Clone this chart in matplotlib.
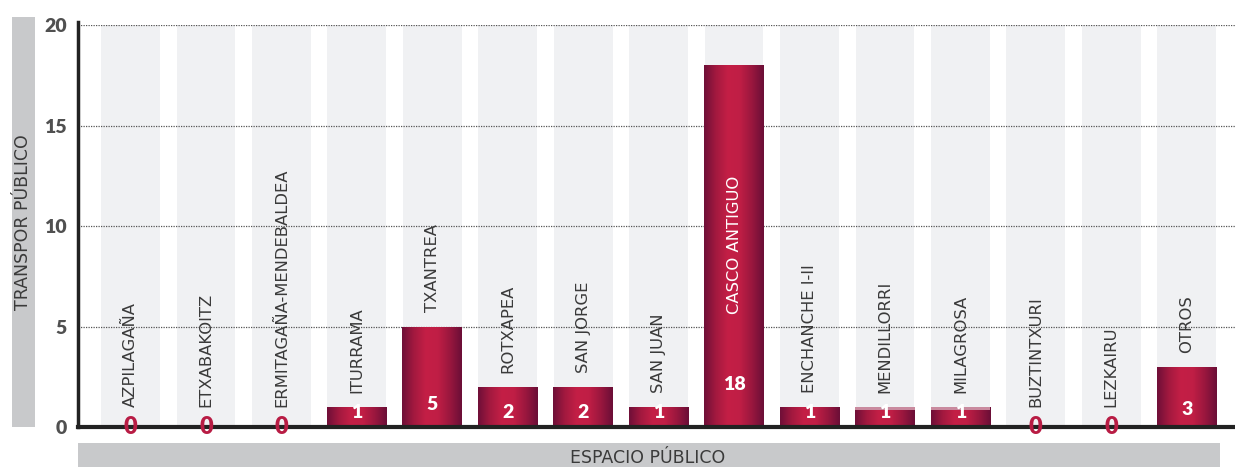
import numpy as np
import matplotlib
matplotlib.use("Agg")
import matplotlib.pyplot as plt
from matplotlib.colors import LinearSegmentedColormap
from matplotlib.patches import Rectangle
from matplotlib.font_manager import FontProperties

barrios = ["AZPILAGAÑA", "ETXABAKOITZ", "ERMITAGAÑA-MENDEBALDEA", "ITURRAMA",
           "TXANTREA", "ROTXAPEA", "SAN JORGE", "SAN JUAN", "CASCO ANTIGUO",
           "ENCHANCHE I-II", "MENDILLORRI", "MILAGROSA", "BUZTINTXURI",
           "LEZKAIRU", "OTROS"]
valores = [0, 0, 0, 1, 5, 2, 2, 1, 18, 1, 1, 1, 0, 0, 3]
faded_top = ["MENDILLORRI", "MILAGROSA"]

CRIMSON = "#b81c44"
TXT = "#3a3a3a"
grad = LinearSegmentedColormap.from_list(
    "bar", ["#6e0f38", "#a3193f", "#c41f46", "#c01e45", "#9a173e", "#6a0e37"])

plt.rcParams['font.family'] = ['DejaVu Sans']
num_font = FontProperties(family="Lato", weight="heavy", size=14)
zero_font = FontProperties(family="Lato", weight="heavy", size=17)
cat_font = FontProperties(family="DejaVu Sans", size=11.8)
title_font = FontProperties(family="DejaVu Sans", size=12.5)

fig = plt.figure(figsize=(12.35, 4.67), dpi=100)
ax = fig.add_axes([78 / 1235, 40 / 467, 1 - 78 / 1235, 402 / 467])
x = np.arange(len(barrios))
ax.set_xlim(-0.696, len(barrios) - 1 + 0.64)
ax.set_ylim(0, 20)

# light background columns
for xi in x:
    ax.add_patch(Rectangle((xi - 0.39, 0), 0.78, 20, color="#f0f1f3", lw=0, zorder=0))

# dotted gridlines
for yv in [5, 10, 15, 20]:
    ax.axhline(yv, color="#555555", lw=0.9, ls=(0, (1, 1)), zorder=1)

bars = ax.bar(x, valores, width=0.79, color="none", lw=0, zorder=2)
g = np.linspace(0, 1, 256).reshape(1, -1)
for b, name, v in zip(bars, barrios, valores):
    if v == 0:
        continue
    bx, bw = b.get_x(), b.get_width()
    im = ax.imshow(g, cmap=grad, aspect="auto", extent=(bx, bx + bw, 0, v),
                   zorder=2, interpolation="bicubic")
    im.set_clip_path(b)
    if name in faded_top:
        ax.add_patch(Rectangle((bx, v - 0.15), bw, 0.15, color="#c98a9e", lw=0, zorder=3))

# value labels
for xi, v in zip(x, valores):
    if v == 0:
        ax.text(xi, 0, "0", ha="center", va="center", color=CRIMSON,
                fontproperties=zero_font, zorder=6)
    else:
        ax.text(xi, max(0.7, 0.5 * np.sqrt(v)), str(v), ha="center", va="center",
                color="white", fontproperties=num_font, zorder=6)

# category labels
for xi, name, v in zip(x, barrios, valores):
    if v > 10:
        ax.text(xi, 5.6, name, rotation=90, ha="center", va="bottom",
                color="white", fontproperties=cat_font, zorder=6)
    else:
        ax.text(xi, v + (0.7 if v else 1.0), name, rotation=90, ha="center",
                va="bottom", color=TXT, fontproperties=cat_font, zorder=6)

ax.set_yticks([0, 5, 10, 15, 20])
ax.set_yticklabels(["0", "5", "10", "15", "20"], fontproperties=num_font)
ax.set_xticks([])
ax.tick_params(axis="y", length=0, pad=8, labelcolor="#505050")
for s in ["top", "right"]:
    ax.spines[s].set_visible(False)
ax.spines["left"].set_linewidth(2.5)
ax.spines["left"].set_color("#222222")
ax.spines["bottom"].set_linewidth(3)
ax.spines["bottom"].set_color("#222222")
ax.spines["left"].set_bounds(0, 20.15)
ax.spines["left"].set_zorder(5)
ax.spines["bottom"].set_zorder(5)

# axis title boxes
fig.patches.append(Rectangle((12 / 1235, 40 / 467), 23 / 1235, 410 / 467,
                             transform=fig.transFigure, color="#c8c9cb", lw=0))
fig.text(23.5 / 1235, 245 / 467, "TRANSPOR PÚBLICO", rotation=90, ha="center",
         va="center", color=TXT, fontproperties=title_font)
fig.patches.append(Rectangle((78 / 1235, 0), 1142 / 1235, 24 / 467,
                             transform=fig.transFigure, color="#c8c9cb", lw=0))
fig.text(648 / 1235, 9 / 467, "ESPACIO PÚBLICO", ha="center", va="center",
         color=TXT, fontproperties=title_font)

fig.savefig("out.png", dpi=100)
